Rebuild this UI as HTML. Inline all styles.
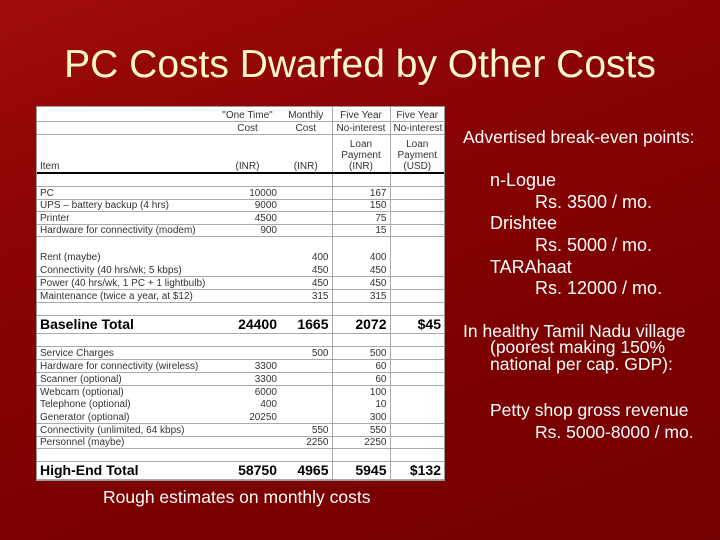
<!DOCTYPE html>
<html><head><meta charset="utf-8"><style>
*{margin:0;padding:0;box-sizing:border-box}
body{width:720px;height:540px;overflow:hidden;position:relative;font-family:"Liberation Sans",sans-serif;
background:linear-gradient(160deg,#a00c0c 0%,#8c0404 30%,#7e0000 60%,#730000 100%)}
.t{position:absolute;white-space:nowrap}
#title{left:0;width:720px;top:43px;text-align:center;font-size:39px;color:#fff8cc}
table{position:absolute;left:37px;top:107px;width:407px;border-collapse:collapse;table-layout:fixed;background:#fff;font-size:10px;color:#333;outline:1px solid #999}
td{padding:0 3px;line-height:11px;border-bottom:1px solid #aaa;vertical-align:bottom;white-space:nowrap;overflow:hidden}
td.r{text-align:right}
td.c{text-align:center}
td.v{border-left:1px solid #aaa}
tr.n td{border-bottom:none}
tr.thick td{border-bottom:2px solid #000}
tr.tot td{font-weight:bold;font-size:14px;color:#000;vertical-align:middle}
.side{color:#fff;font-size:17.5px}
.sub{color:#fff;font-size:18px}
</style></head><body>
<div id="title" class="t">PC Costs Dwarfed by Other Costs</div>
<table>
<colgroup><col style="width:178px"><col style="width:65px"><col style="width:52px"><col style="width:58px"><col style="width:54px"></colgroup>
<tr style="height:14px"><td></td><td class="c">"One Time"</td><td class="c">Monthly</td><td class="c v">Five Year</td><td class="c v">Five Year</td></tr>
<tr style="height:13px"><td></td><td class="c">Cost</td><td class="c">Cost</td><td class="c v">No-interest</td><td class="c v">No-interest</td></tr>
<tr style="height:39px" class="thick"><td>Item</td><td class="c">(INR)</td><td class="c">(INR)</td><td class="c v">Loan<br>Payment<br>(INR)</td><td class="c v">Loan<br>Payment<br>(USD)</td></tr>
<tr style="height:13px"><td></td><td></td><td></td><td class="v"></td><td class="v"></td></tr>
<tr style="height:13px"><td>PC</td><td class="r">10000</td><td></td><td class="r v">167</td><td class="v"></td></tr>
<tr style="height:12px"><td>UPS – battery backup (4 hrs)</td><td class="r">9000</td><td></td><td class="r v">150</td><td class="v"></td></tr>
<tr style="height:13px"><td>Printer</td><td class="r">4500</td><td></td><td class="r v">75</td><td class="v"></td></tr>
<tr style="height:12px"><td>Hardware for connectivity (modem)</td><td class="r">900</td><td></td><td class="r v">15</td><td class="v"></td></tr>
<tr style="height:14px" class="n"><td></td><td></td><td></td><td class="v"></td><td class="v"></td></tr>
<tr style="height:13px" class="n"><td>Rent (maybe)</td><td></td><td class="r">400</td><td class="r v">400</td><td class="v"></td></tr>
<tr style="height:13px"><td>Connectivity (40 hrs/wk; 5 kbps)</td><td></td><td class="r">450</td><td class="r v">450</td><td class="v"></td></tr>
<tr style="height:13px"><td>Power (40 hrs/wk, 1 PC + 1 lightbulb)</td><td></td><td class="r">450</td><td class="r v">450</td><td class="v"></td></tr>
<tr style="height:13px"><td>Maintenance (twice a year, at $12)</td><td></td><td class="r">315</td><td class="r v">315</td><td class="v"></td></tr>
<tr style="height:13px"><td></td><td></td><td></td><td class="v"></td><td class="v"></td></tr>
<tr style="height:18px" class="tot"><td>Baseline Total</td><td class="r">24400</td><td class="r">1665</td><td class="r v">2072</td><td class="r v">$45</td></tr>
<tr style="height:13px"><td></td><td></td><td></td><td class="v"></td><td class="v"></td></tr>
<tr style="height:13px"><td>Service Charges</td><td></td><td class="r">500</td><td class="r v">500</td><td class="v"></td></tr>
<tr style="height:13px"><td>Hardware for connectivity (wireless)</td><td class="r">3300</td><td></td><td class="r v">60</td><td class="v"></td></tr>
<tr style="height:13px"><td>Scanner (optional)</td><td class="r">3300</td><td></td><td class="r v">60</td><td class="v"></td></tr>
<tr style="height:13px" class="n"><td>Webcam (optional)</td><td class="r">6000</td><td></td><td class="r v">100</td><td class="v"></td></tr>
<tr style="height:12px" class="n"><td>Telephone (optional)</td><td class="r">400</td><td></td><td class="r v">10</td><td class="v"></td></tr>
<tr style="height:13px"><td>Generator (optional)</td><td class="r">20250</td><td></td><td class="r v">300</td><td class="v"></td></tr>
<tr style="height:13px"><td>Connectivity (unlimited, 64 kbps)</td><td></td><td class="r">550</td><td class="r v">550</td><td class="v"></td></tr>
<tr style="height:12px"><td>Personnel (maybe)</td><td></td><td class="r">2250</td><td class="r v">2250</td><td class="v"></td></tr>
<tr style="height:13px"><td></td><td></td><td></td><td class="v"></td><td class="v"></td></tr>
<tr style="height:18px" class="tot"><td>High-End Total</td><td class="r">58750</td><td class="r">4965</td><td class="r v">5945</td><td class="r v">$132</td></tr>
</table>
<div class="t side" style="left:463px;top:127px">Advertised break-even points:</div>
<div class="t sub" style="left:490px;top:170px">n-Logue</div>
<div class="t sub" style="left:535px;top:192px">Rs. 3500 / mo.</div>
<div class="t sub" style="left:490px;top:213px">Drishtee</div>
<div class="t sub" style="left:535px;top:235px">Rs. 5000 / mo.</div>
<div class="t sub" style="left:490px;top:257px">TARAhaat</div>
<div class="t sub" style="left:535px;top:278px">Rs. 12000 / mo.</div>
<div class="t side" style="left:463px;top:321px">In healthy Tamil Nadu village</div>
<div class="t side" style="left:490px;top:339px;line-height:17px">(poorest making 150%<br>national per cap. GDP):</div>
<div class="t side" style="left:490px;top:400px">Petty shop gross revenue</div>
<div class="t side" style="left:535px;top:422px">Rs. 5000-8000 / mo.</div>
<div class="t side" style="left:103px;top:487px">Rough estimates on monthly costs</div>
</body></html>
